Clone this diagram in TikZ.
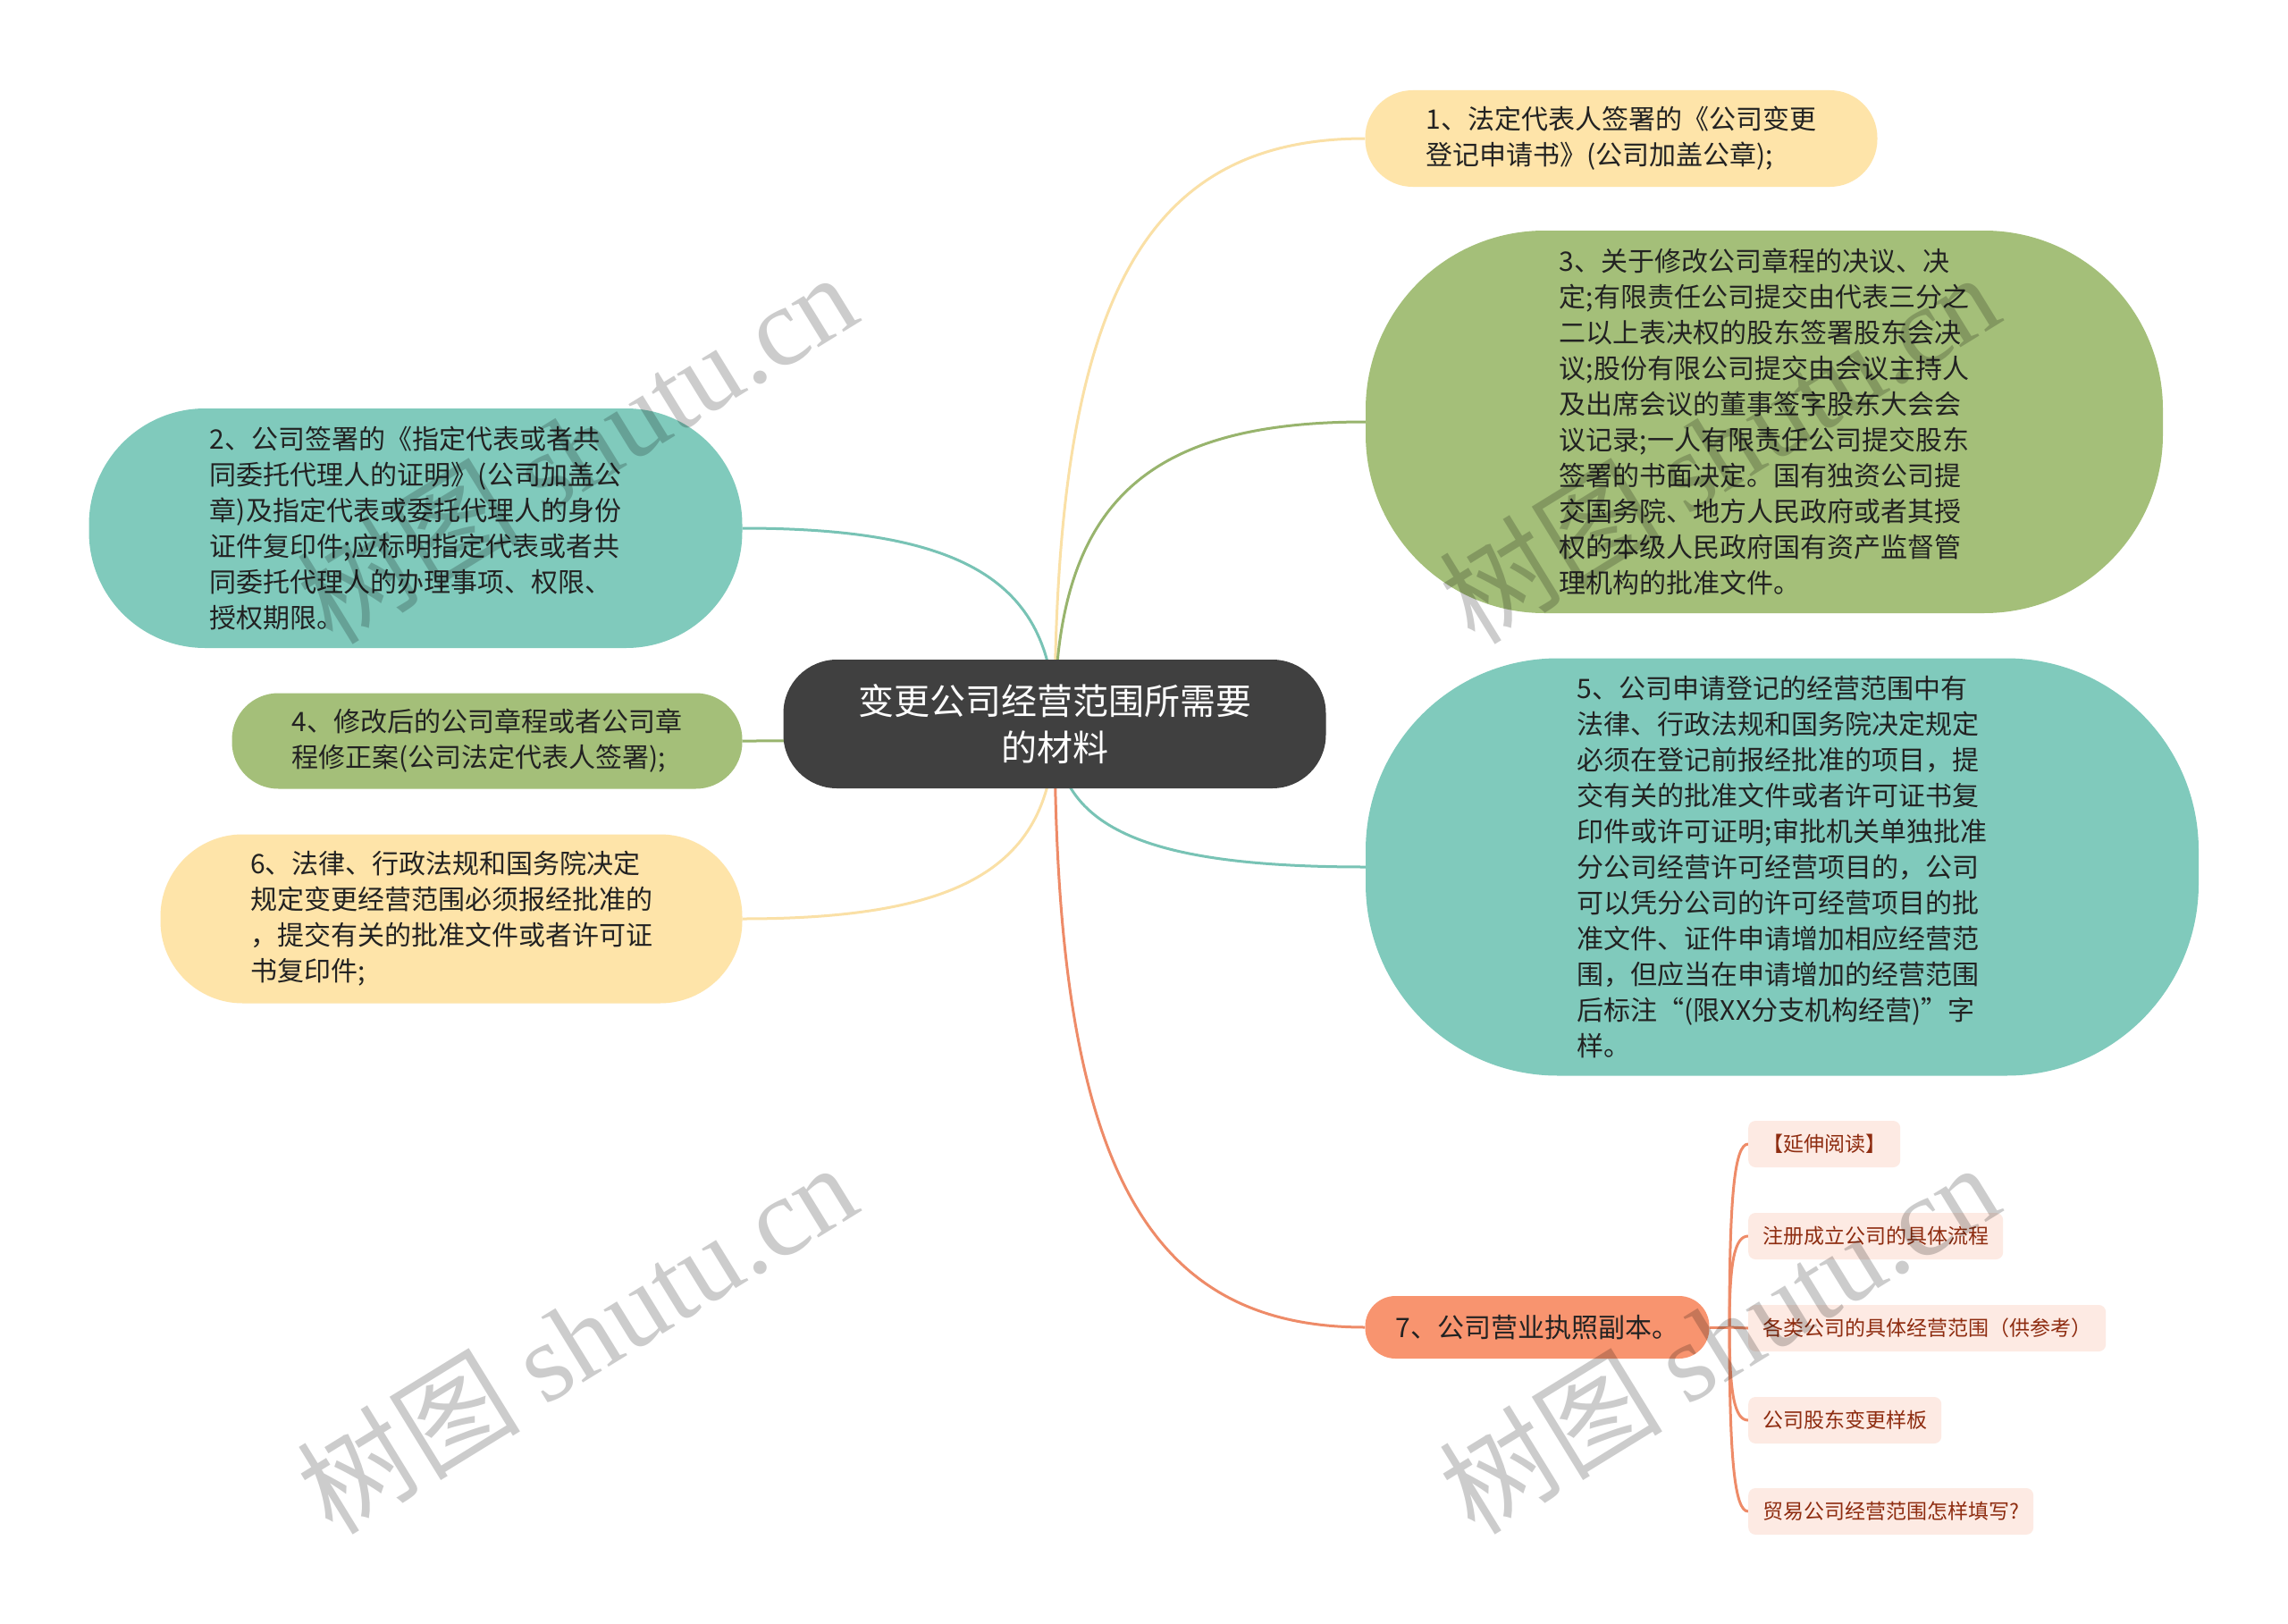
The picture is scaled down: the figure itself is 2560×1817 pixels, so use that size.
\documentclass[tikz,border=0pt]{standalone}
\usepackage{fontspec}
\setmainfont{Noto Sans CJK SC}
\newfontfamily\cjk{Noto Sans CJK SC}
\newfontfamily\wmserif{Liberation Serif}
\usetikzlibrary{backgrounds,calc}
\definecolor{cyel}{HTML}{FEE4A9}
\definecolor{lyel}{HTML}{FAE0A6}
\definecolor{cgrn}{HTML}{A4BF79}
\definecolor{lgrn}{HTML}{98B46D}
\definecolor{ctea}{HTML}{80CABC}
\definecolor{ltea}{HTML}{78C3B5}
\definecolor{corg}{HTML}{F8946F}
\definecolor{lorg}{HTML}{EE8B68}
\definecolor{croot}{HTML}{404040}
\definecolor{csub}{HTML}{FDEAE3}
\definecolor{csubt}{HTML}{8E2C10}
\definecolor{ctxt}{HTML}{222222}
\tikzset{
  base/.style={rectangle, inner sep=0pt, align=left, text=ctxt, font=\fontsize{30}{40}\selectfont},
  yel/.style={base, fill=cyel},
  grn/.style={base, fill=cgrn},
  tea/.style={base, fill=ctea},
  subbox/.style={rectangle, fill=csub, text=csubt, rounded corners=8pt, inner xsep=16pt, inner ysep=0pt, minimum height=52pt, anchor=west, font=\fontsize{23}{27}\selectfont},
  link/.style={line width=3pt},
  mm/.style={to path={.. controls ($(\tikztostart)!0.72!(\tikztostart |- \tikztotarget)$) and ($(\tikztotarget)!0.72!(\tikztostart |- \tikztotarget)$) .. (\tikztotarget)}},
  wm/.style={text=black, text opacity=0.2, font=\fontsize{125}{125}\selectfont, rotate=31.6, inner sep=0pt}
}
\begin{document}
\begin{tikzpicture}[x=1pt,y=-1pt]
\useasboundingbox (0,0) rectangle (2560,1817);

% root
\node[rectangle, fill=croot, text=white, rounded corners=60pt, minimum width=607pt, minimum height=144pt, align=center, font=\fontsize{40}{52}\selectfont] (root) at (1180,810) {变更公司经营范围所需要\\的材料};

% right side
\node[yel, rounded corners=53pt, minimum width=573pt, minimum height=108pt] (n1) at (1814,155)
 {1、法定代表人签署的《公司变更\\登记申请书》(公司加盖公章);};
\node[grn, rounded corners=200pt, minimum width=892pt, minimum height=428pt] (n3) at (1974,472)
 {3、关于修改公司章程的决议、决\\定;有限责任公司提交由代表三分之\\二以上表决权的股东签署股东会决\\议;股份有限公司提交由会议主持人\\及出席会议的董事签字股东大会会\\议记录;一人有限责任公司提交股东\\签署的书面决定。国有独资公司提\\交国务院、地方人民政府或者其授\\权的本级人民政府国有资产监督管\\理机构的批准文件。};
\node[tea, rounded corners=215pt, minimum width=932pt, minimum height=467pt] (n5) at (1994,970)
 {5、公司申请登记的经营范围中有\\法律、行政法规和国务院决定规定\\必须在登记前报经批准的项目，提\\交有关的批准文件或者许可证书复\\印件或许可证明;审批机关单独批准\\分公司经营许可经营项目的，公司\\可以凭分公司的许可经营项目的批\\准文件、证件申请增加相应经营范\\围，但应当在申请增加的经营范围\\后标注“(限XX分支机构经营)”字\\样。};
\node[base, fill=corg, rounded corners=34pt, minimum width=385pt, minimum height=70pt] (n7) at (1720,1485)
 {7、公司营业执照副本。};

% left side
\node[tea, rounded corners=130pt, minimum width=731pt, minimum height=268pt] (n2) at (465,591)
 {2、公司签署的《指定代表或者共\\同委托代理人的证明》(公司加盖公\\章)及指定代表或委托代理人的身份\\证件复印件;应标明指定代表或者共\\同委托代理人的办理事项、权限、\\授权期限。};
\node[grn, rounded corners=52pt, minimum width=571pt, minimum height=107pt] (n4) at (545,829)
 {4、修改后的公司章程或者公司章\\程修正案(公司法定代表人签署);};
\node[yel, rounded corners=92pt, minimum width=651pt, minimum height=189pt] (n6) at (505,1028)
 {6、法律、行政法规和国务院决定\\规定变更经营范围必须报经批准的\\，提交有关的批准文件或者许可证\\书复印件;};

% sub nodes
\node[subbox] (s1) at (1956,1280) {【延伸阅读】};
\node[subbox] (s2) at (1956,1383) {注册成立公司的具体流程};
\node[subbox] (s3) at (1956,1486) {各类公司的具体经营范围（供参考）};
\node[subbox] (s4) at (1956,1589) {公司股东变更样板};
\node[subbox] (s5) at (1956,1691) {贸易公司经营范围怎样填写?};
\coordinate (fk) at (1935,1485);

\begin{pgfonlayer}{background}
\fill[white] (0,0) rectangle (2560,1817);
\draw[link, lyel] (root.center) to[mm] (n1.west);
\draw[link, lgrn] (root.center) to[mm] (n3.west);
\draw[link, ltea] (root.center) to[mm] (n5.west);
\draw[link, lorg] (root.center) to[mm] (n7.west);
\draw[link, ltea] (root.center) to[mm] (n2.east);
\draw[link, lgrn] (root.center) to[mm] (n4.east);
\draw[link, lyel] (root.center) to[mm] (n6.east);
\draw[link, lorg] (n7.east) -- (fk);
\draw[link, lorg] (fk) to[mm] (s1.west);
\draw[link, lorg] (fk) to[mm] (s2.west);
\draw[link, lorg] (fk) -- (s3.west);
\draw[link, lorg] (fk) to[mm] (s4.west);
\draw[link, lorg] (fk) to[mm] (s5.west);
\end{pgfonlayer}

% watermarks
\node[wm] (w1) at (645,500) {\cjk 树图 \wmserif shutu.cn};
\node[wm] (w2) at (1923,500) {\cjk 树图 \wmserif shutu.cn};
\node[wm] (w3) at (645,1496) {\cjk 树图 \wmserif shutu.cn};
\node[wm] (w4) at (1923,1496) {\cjk 树图 \wmserif shutu.cn};
\end{tikzpicture}
\end{document}
